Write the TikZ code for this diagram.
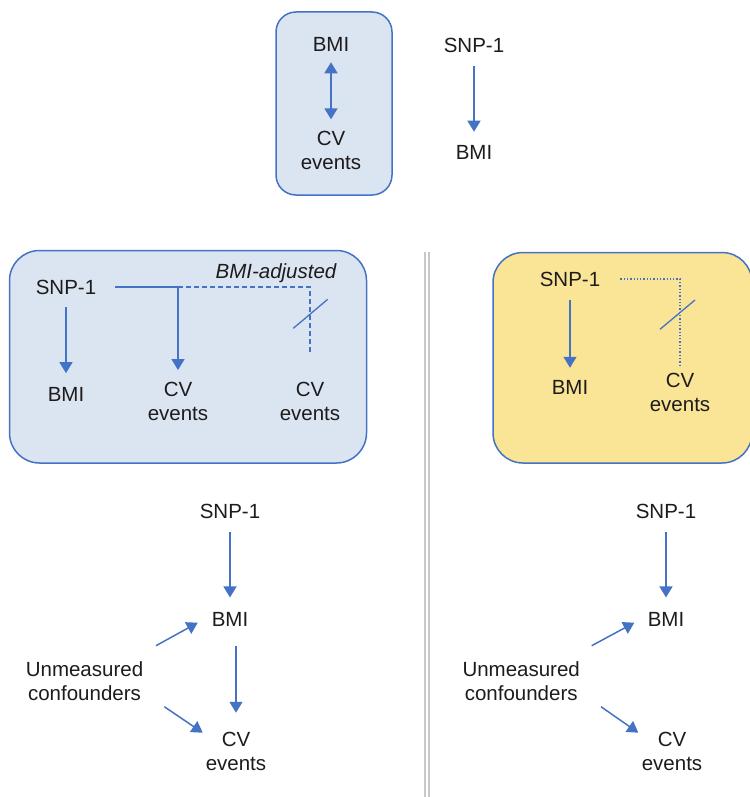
\documentclass[tikz,border=0pt]{standalone}
\usepackage{fontspec}
\setmainfont{Liberation Sans}
\usetikzlibrary{arrows.meta,calc}
\definecolor{edgeblue}{RGB}{68,114,196}
\definecolor{paleblue}{RGB}{219,229,241}
\definecolor{paleyellow}{RGB}{250,228,150}
\definecolor{inkgray}{RGB}{30,27,28}
\definecolor{rulegray}{RGB}{200,200,200}
\tikzset{
  tip/.tip={Triangle[length=11pt,width=13pt]},
  lbl/.style={inner sep=0pt, align=center, text=inkgray,
    font=\fontsize{20.5}{24}\selectfont},
  panel/.style={draw=edgeblue, line width=1.5pt},
  arr/.style={draw=edgeblue, line width=1.5pt, -tip},
  link/.style={draw=edgeblue, line width=1.5pt},
  cutmark/.style={draw=edgeblue, line width=1.3pt},
}
\begin{document}
\begin{tikzpicture}[x=1pt,y=-1pt]
\useasboundingbox (0,0) rectangle (749,797);

% divider between the two lower columns
\draw[rulegray, line width=1.5pt] (425,252) -- (425,797);
\draw[rulegray, line width=1.5pt] (429,252) -- (429,797);

% ---- top: observational association and genetic instrument
\draw[panel, fill=paleblue, rounded corners=20pt] (276,12) rectangle (392,195);
\node[lbl] (tbmi) at (331,44) {BMI};
\node[lbl] (tcv) at (331,150.5) {CV\\events};
\draw[link, tip-tip, shorten <=11pt, shorten >=11.7pt] (tbmi.south) -- (tcv.north);

\node[lbl] (tsnp) at (474,45) {SNP-1};
\node[lbl] (tbmi2) at (474,152.5) {BMI};
\draw[arr, shorten <=13.6pt, shorten >=13.5pt] (tsnp.south) -- (tbmi2.north);

% ---- middle left: BMI-adjusted analysis
\draw[panel, fill=paleblue, rounded corners=30pt] (9.5,250.5) rectangle (366.5,463);
\node[lbl] (msnp) at (66,287) {SNP-1};
\node[lbl] (mbmi) at (66,394) {BMI};
\node[lbl] (mcv) at (178,401) {CV\\events};
\node[lbl] (mcv2) at (310,401) {CV\\events};
\node[lbl, font=\fontsize{20.5}{24}\selectfont\itshape] (madj) at (276,273) {BMI-adjusted};
\coordinate (mjoin) at (178,287);
\draw[arr, shorten <=12.3pt, shorten >=13.6pt] (msnp.south) -- (mbmi.north);
\draw[link, shorten <=19pt] (msnp.east) -- (mjoin);
\draw[arr, shorten >=11.5pt] (mjoin) -- (mcv.north);
\draw[link, line width=1.3pt, dash pattern=on 5pt off 3pt, shorten >=28.5pt] (mjoin) -| (mcv2.north);
\draw[cutmark] (293.3,328.3) -- (327.7,299.3);

% ---- middle right: no direct effect
\draw[panel, fill=paleyellow, rounded corners=30pt] (493,252.5) rectangle (752,463);
\node[lbl] (rsnp) at (570,279) {SNP-1};
\node[lbl] (rbmi) at (570,387.5) {BMI};
\node[lbl] (rcv) at (680,392.5) {CV\\events};
\draw[arr, shorten <=13.6pt, shorten >=12.5pt] (rsnp.south) -- (rbmi.north);
\draw[link, line width=1.3pt, dash pattern=on 1.3pt off 2pt, shorten <=20pt, shorten >=8pt]
  (rsnp.east) -| (rcv.north);
\draw[cutmark] (660,329.3) -- (695,300);

% ---- bottom left: confounded BMI with effect on CV events
\node[lbl] (lsnp) at (230,511) {SNP-1};
\node[lbl] (lbmi) at (230,619.2) {BMI};
\node[lbl] (lcv) at (236,751.7) {CV\\events};
\node[lbl] (lum) at (84.5,681.2) {Unmeasured\\confounders};
\coordinate (lu1) at (156,645.7);
\coordinate (lb1) at (197.7,622.7);
\coordinate (lu2) at (164.3,706.7);
\coordinate (lc2) at (202.7,732.7);
\draw[arr, shorten <=13.5pt, shorten >=14.5pt] (lsnp.south) -- (lbmi.north);
\draw[arr, shorten <=19.5pt, shorten >=19.5pt] (lbmi.south -| lcv.north) -- (lcv.north);
\draw[arr] (lu1) -- (lb1);
\draw[arr] (lu2) -- (lc2);

% ---- bottom right: confounding only
\node[lbl] (bsnp) at (666,511) {SNP-1};
\node[lbl] (bbmi) at (666,619.2) {BMI};
\node[lbl] (bcv) at (672,751.7) {CV\\events};
\node[lbl] (bum) at (521.2,681.2) {Unmeasured\\confounders};
\coordinate (bu1) at (591.7,645.7);
\coordinate (bb1) at (634.3,622.7);
\coordinate (bu2) at (601,706.7);
\coordinate (bc2) at (638.3,732.7);
\draw[arr, shorten <=13.5pt, shorten >=14.5pt] (bsnp.south) -- (bbmi.north);
\draw[arr] (bu1) -- (bb1);
\draw[arr] (bu2) -- (bc2);
\end{tikzpicture}
\end{document}
